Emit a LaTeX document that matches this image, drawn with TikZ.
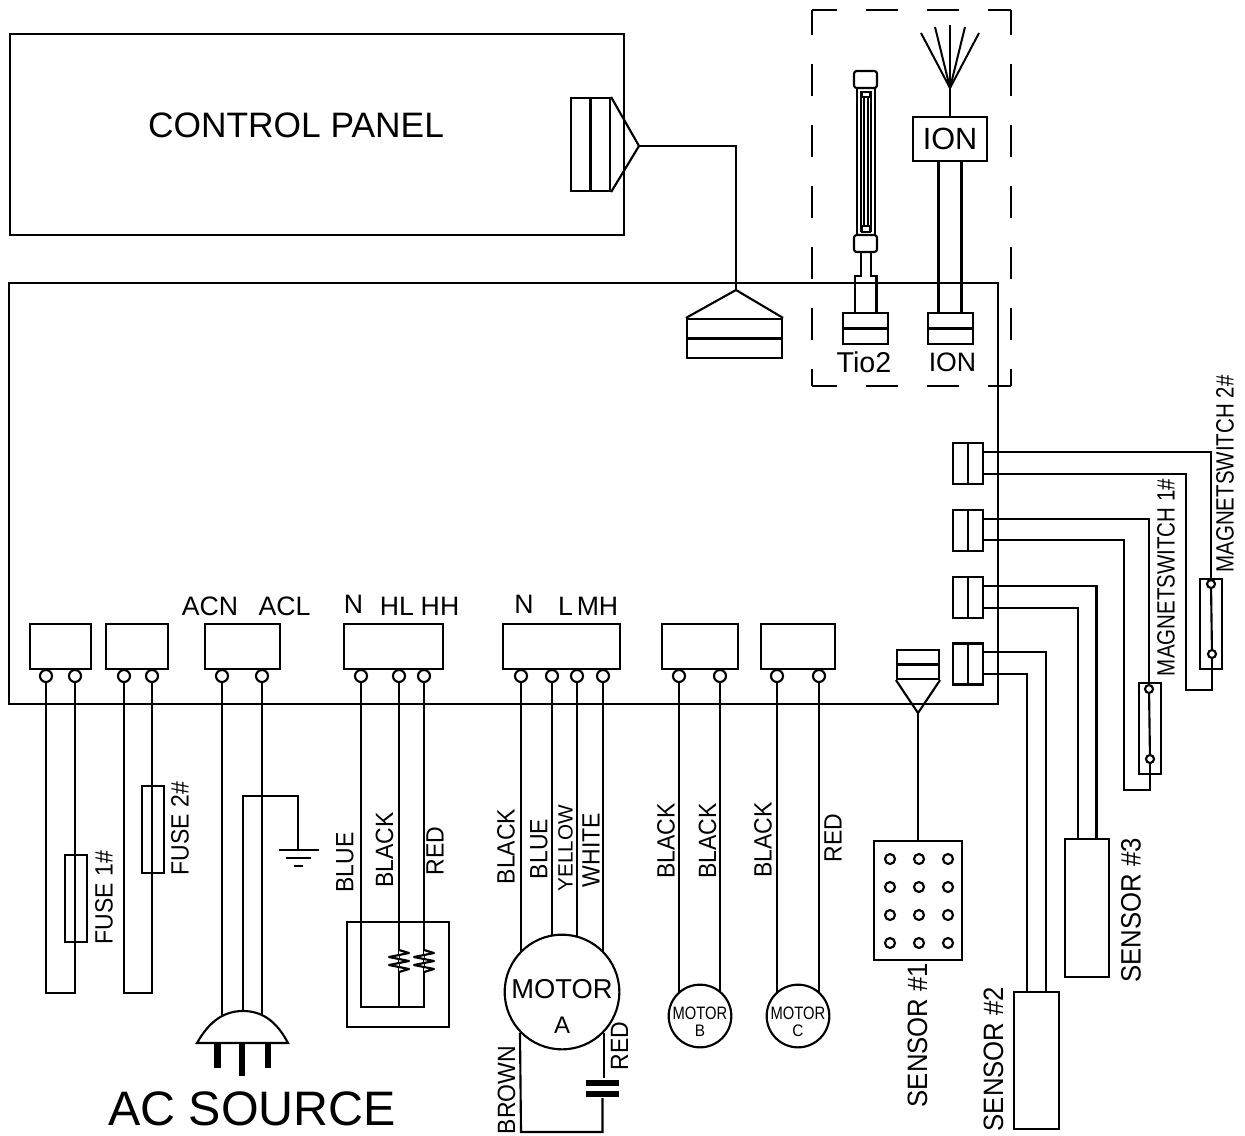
\documentclass[tikz,border=0pt]{standalone}
\usepackage{fontspec}
\setmainfont{Liberation Sans}
\newfontfamily\narrowfont[FakeStretch=0.92]{Liberation Sans}
\newfontfamily\tightfont[FakeStretch=0.82]{Liberation Sans}
\newcommand{\txtsize}[1]{\fontsize{#1}{#1}\selectfont}
\tikzset{
    plain-box/.style 2 args = {draw, rectangle, inner sep=0pt, minimum width=#1*0.75pt, minimum height=#2*0.75pt},
    term/.style = {draw, circle, fill=white, inner sep=0pt, minimum size=9pt},
    switch-pin/.style = {draw, circle, fill=white, inner sep=0pt, minimum size=6pt},
    sensor-dot/.style = {draw, circle, inner sep=0pt, minimum size=7.5pt},
    motor-big/.style = {draw, circle, inner sep=0pt, minimum size=86pt},
    motor-small/.style = {draw, circle, inner sep=0pt, minimum size=47pt},
    cap-plate/.style = {fill=black, rectangle, inner sep=0pt, minimum width=25pt, minimum height=4.5pt},
    dash-line/.style = {dash pattern=on 24pt off 21.75pt, dash phase=5.6pt},
    thin-line/.style = {line width=0.9pt},
    top-label/.style = {inner sep=0pt, font=\txtsize{20pt}},
    wire-label/.style = {inner sep=0pt, rotate=90, font=\narrowfont\txtsize{18.75pt}},
    long-label/.style = {inner sep=0pt, rotate=90, font=\tightfont\txtsize{18.75pt}},
    big-label/.style = {inner sep=0pt, rotate=90, font=\narrowfont\txtsize{21pt}},
}
\begin{document}
\begin{tikzpicture}[x=0.75pt, y=-0.75pt, line width=1.6pt, line join=miter]
\useasboundingbox (0,0) rectangle (1245,1135);

\node [plain-box={614}{201}] (panel) at (317,134.5) {};
\node [inner sep=0pt, font=\txtsize{26.5pt}] (panel-text) at (296,125) {CONTROL PANEL};
\node [plain-box={39}{93}] (panel-conn) at (590.5,144.5) {};
\coordinate (panel-tip) at (639,146);
\draw (panel-conn.north) -- (panel-conn.south);
\draw (panel-conn.north east) -- (panel-tip) -- (panel-conn.south east);

\node [plain-box={989}{421}] (board) at (503.5,493.5) {};
\node [plain-box={95}{39}] (board-conn) at (734.5,338.5) {};
\coordinate (board-tip) at (736,290);
\draw (board-conn.west) -- (board-conn.east);
\draw (board-conn.north west) -- (board-tip) -- (board-conn.north east);
\draw (panel-tip) -| (board-tip);

\draw [dash-line] (812,10) -- (1011,10);
\draw [dash-line] (812,386) -- (1011,386);
\draw [dash-line] (812,10) -- (812,386);
\draw [dash-line] (1011,10) -- (1011,386);

\draw [rounded corners=2pt] (854,88) rectangle (877,71);
\draw (857,88) -- (857,235);
\draw (875,88) -- (875,235);
\draw [thin-line] (861,91) -- (861,232);
\draw [thin-line] (871,91) -- (871,232);
\draw [thin-line] (864,97) -- (864,226);
\draw [thin-line] (868,97) -- (868,226);
\draw [thin-line] (862,92) rectangle (870,97);
\draw [thin-line] (862,226) rectangle (870,232);
\draw [rounded corners=2pt] (854,252) rectangle (877,235);
\node [plain-box={45}{31}] (tio-conn) at (865.5,328.5) {};
\node [plain-box={45}{31}] (ion-conn) at (950.5,328.5) {};
\draw (tio-conn.west) -- (tio-conn.east);
\draw (ion-conn.west) -- (ion-conn.east);
\draw (861,252) -- (861,276) -- ([xshift=-8.2pt]tio-conn.north |- 0,276) -- ([xshift=-8.2pt]tio-conn.north);
\draw (871,252) -- (871,276) -- ([xshift=8.2pt]tio-conn.north |- 0,276) -- ([xshift=8.2pt]tio-conn.north);
\node [inner sep=0pt, font=\txtsize{21.5pt}] (tio-text) at (864,362) {Tio2};
\node [top-label] (ion-text) at (952.5,362) {ION};
\node [plain-box={74}{44}, font=\txtsize{23pt}] (ion-box) at (950,139) {ION};
\draw ([xshift=-8.6pt]ion-box.south) -- ([xshift=-8.6pt]ion-box.south |- ion-conn.north);
\draw ([xshift=8.6pt]ion-box.south) -- ([xshift=8.6pt]ion-box.south |- ion-conn.north);
\coordinate (ant-root) at (950,88);
\draw (ion-box.north) -- (ant-root);
\foreach \tipx/\tipy in {921/33, 935/27, 950/25, 965/27, 979/33}
    \draw [line width=1.5pt] (ant-root) -- (\tipx,\tipy);

\node [plain-box={61}{45}] (fuse-a-conn) at (60.5,646.5) {};
\node [plain-box={62}{45}] (fuse-b-conn) at (137,646.5) {};
\node [plain-box={75}{45}] (ac-conn) at (242.5,646.5) {};
\node [plain-box={99}{45}] (heat-conn) at (393.5,646.5) {};
\node [plain-box={117}{45}] (mot-a-conn) at (561.5,646.5) {};
\node [plain-box={76}{45}] (mot-b-conn) at (700,646.5) {};
\node [plain-box={74}{45}] (mot-c-conn) at (798,646.5) {};
\foreach \name/\tx in {fa1/46, fa2/75, fb1/124, fb2/152, ac1/222, ac2/262, h1/361, h2/399, h3/424,
    ma1/521, ma2/552, ma3/577, ma4/603, mb1/679, mb2/720, mc1/777, mc2/819}
    \node [term] (term-\name) at (\tx,676) {};

\node [top-label] (lb-acn) at (210,606.5) {ACN};
\node [top-label] (lb-acl) at (284.5,606.5) {ACL};
\node [top-label] (lb-hn) at (353.5,604.5) {N};
\node [top-label] (lb-hl) at (397,606.5) {HL};
\node [top-label] (lb-hh) at (440,606.5) {HH};
\node [top-label] (lb-mn) at (524,604.5) {N};
\node [top-label] (lb-ml) at (565.5,606.5) {L};
\node [top-label] (lb-mh) at (597.5,606.5) {MH};

\coordinate (fuse-a-end) at (46,993);
\coordinate (fuse-b-end) at (124,993);
\draw (term-fa1) -- (fuse-a-end) -| (term-fa2);
\draw (term-fb1) -- (fuse-b-end) -| (term-fb2);
\node [plain-box={22}{87}] (fuse-a) at (76,898.5) {};
\node [plain-box={22}{87}] (fuse-b) at (153,829.5) {};
\node [wire-label] (lb-fuse-a) at (104,897.5) {FUSE 1\#};
\node [wire-label] (lb-fuse-b) at (180,828.5) {FUSE 2\#};

\coordinate (plug-top) at (243,1011);
\coordinate (plug-l) at (222,1016);
\coordinate (plug-r) at (262,1016);
\coordinate (gnd-top) at (243,796);
\coordinate (gnd) at (298,850);
\draw (term-ac1) -- (plug-l);
\draw (term-ac2) -- (plug-r);
\draw (plug-top) -- (gnd-top) -| (gnd);
\draw (279,850) -- (319,850);
\draw (286,858) -- (311,858);
\draw (294,866) -- (303,866);
\draw (197,1043) .. controls (210,1020) and (225,1011) .. (243,1011) .. controls (261,1011) and (276,1020) .. (288,1043) -- cycle;
\fill (214,1043) rectangle (221,1068);
\fill (239,1043) rectangle (245,1076);
\fill (265,1043) rectangle (271,1068);
\node [inner sep=0pt, font=\txtsize{36.3pt}] (lb-source) at (252,1108.5) {AC SOURCE};

\node [plain-box={102}{105}] (heater) at (398,974.5) {};
\coordinate (heat-loop) at (361,1007);
\draw (term-h1) -- (heat-loop) -| (term-h3);
\draw (term-h2) -- (term-h2 |- heat-loop);
\foreach \cx in {399,424}
    \draw [fill=white, line join=round] (\cx,950) -- (\cx+10,953) -- (\cx-10,957) -- (\cx+10,961) -- (\cx-10,965) -- (\cx+10,969) -- (\cx,972);
\node [wire-label] (lb-h1) at (345,862.5) {BLUE};
\node [wire-label] (lb-h2) at (384.5,850) {BLACK};
\node [wire-label] (lb-h3) at (435,851) {RED};

\node [motor-big] (motor-a) at (562,992) {};
\node [inner sep=0pt, font=\txtsize{20.5pt}] (motor-a-text) at (562,989) {MOTOR};
\node [inner sep=0pt, font=\txtsize{18pt}] (motor-a-sub) at (562,1025) {A};
\draw (term-ma1) -- (term-ma1 |- motor-a.136);
\draw (term-ma2) -- (term-ma2 |- motor-a.100);
\draw (term-ma3) -- (term-ma3 |- motor-a.75);
\draw (term-ma4) -- (term-ma4 |- motor-a.44);
\node [cap-plate] (cap-top) at (602.5,1082.5) {};
\node [cap-plate] (cap-bot) at (602.5,1094) {};
\coordinate (brown-end) at (521,1132);
\draw (motor-a.-44) -- (motor-a.-44 |- cap-top.north);
\draw (motor-a.224) -- (brown-end) -| (cap-bot.south);
\node [wire-label] (lb-ma1) at (506,846.5) {BLACK};
\node [wire-label] (lb-ma2) at (539,849) {BLUE};
\node [inner sep=0pt, rotate=90, font=\txtsize{15.5pt}] (lb-ma3) at (565.5,848) {YELLOW};
\node [wire-label] (lb-ma4) at (591,850) {WHITE};
\node [wire-label] (lb-brown) at (506.5,1090) {BROWN};
\node [wire-label] (lb-cap) at (619.5,1046) {RED};

\node [motor-small] (motor-b) at (700,1016) {};
\node [motor-small] (motor-c) at (798,1016) {};
\node [inner sep=0pt, font=\tightfont\txtsize{13.5pt}] (motor-b-text) at (700,1013) {MOTOR};
\node [inner sep=0pt, font=\tightfont\txtsize{13.5pt}] (motor-c-text) at (798,1013) {MOTOR};
\node [inner sep=0pt, font=\narrowfont\txtsize{12.5pt}] (motor-b-sub) at (700,1031) {B};
\node [inner sep=0pt, font=\narrowfont\txtsize{12.5pt}] (motor-c-sub) at (798,1031) {C};
\draw (term-mb1) -- (term-mb1 |- motor-b.132);
\draw (term-mb2) -- (term-mb2 |- motor-b.48);
\draw (term-mc1) -- (term-mc1 |- motor-c.132);
\draw (term-mc2) -- (term-mc2 |- motor-c.48);
\node [wire-label] (lb-mb1) at (666,841) {BLACK};
\node [wire-label] (lb-mb2) at (707.5,841) {BLACK};
\node [wire-label] (lb-mc1) at (763,840) {BLACK};
\node [wire-label] (lb-mc2) at (833,838) {RED};

\node [plain-box={42}{29}] (sensor-a-conn) at (918,664.5) {};
\coordinate (sensor-a-tip) at (918,713);
\draw (sensor-a-conn.west) -- (sensor-a-conn.east);
\draw (sensor-a-conn.south west) -- (sensor-a-tip) -- (sensor-a-conn.south east);
\node [plain-box={88}{119}] (sensor-a) at (918,900.5) {};
\draw (sensor-a-tip) -- (sensor-a.north);
\foreach \dx in {890,919,948}
    \foreach \dy in {859,887,915,943}
        \node [sensor-dot] (dot-\dx-\dy) at (\dx,\dy) {};
\node [plain-box={45}{137}] (sensor-b) at (1036.5,1060.5) {};
\node [plain-box={44}{138}] (sensor-c) at (1087,908) {};
\node [big-label] (lb-sensor-a) at (917.5,1035) {SENSOR \#1};
\node [big-label] (lb-sensor-b) at (993.5,1059) {SENSOR \#2};
\node [big-label] (lb-sensor-c) at (1131,910.5) {SENSOR \#3};

\node [plain-box={22}{90}] (switch-b) at (1211,624) {};
\node [plain-box={22}{91}] (switch-a) at (1150,728.5) {};
\node [switch-pin] (pin-b1) at (1211,584) {};
\node [switch-pin] (pin-b2) at (1212,654) {};
\node [switch-pin] (pin-a1) at (1149,689) {};
\node [switch-pin] (pin-a2) at (1150,759) {};
\draw (pin-b1) -- (pin-b2);
\draw (pin-a1) -- (pin-a2);
\node [long-label] (lb-switch-a) at (1166,577.5) {MAGNETSWITCH 1\#};
\node [long-label] (lb-switch-b) at (1225,474) {MAGNETSWITCH 2\#};

\foreach \name/\cy in {conn-a/463.5, conn-b/530.5, conn-c/597.5, conn-d/664} {
    \node [plain-box={30}{41}] (\name) at (968,\cy) {};
    \draw (\name.north) -- (\name.south);
}
\coordinate (loop-b) at (1186,690);
\coordinate (loop-a) at (1124,790);
\draw ([yshift=8.4pt]conn-a.east) -| (pin-b1);
\draw ([yshift=-7.8pt]conn-a.east) -| (loop-b) -| (pin-b2);
\draw ([yshift=8.4pt]conn-b.east) -| (pin-a1);
\draw ([yshift=-7.2pt]conn-b.east) -| (loop-a) -| (pin-a2);
\draw ([yshift=8.4pt]conn-c.east) -| ([xshift=7.1pt]sensor-c.north);
\draw ([yshift=-7.8pt]conn-c.east) -| ([xshift=-6.9pt]sensor-c.north);
\draw ([yshift=9pt]conn-d.east) -| ([xshift=7.1pt]sensor-b.north);
\draw ([yshift=-7.5pt]conn-d.east) -| ([xshift=-7.1pt]sensor-b.north);
\end{tikzpicture}
\end{document}
